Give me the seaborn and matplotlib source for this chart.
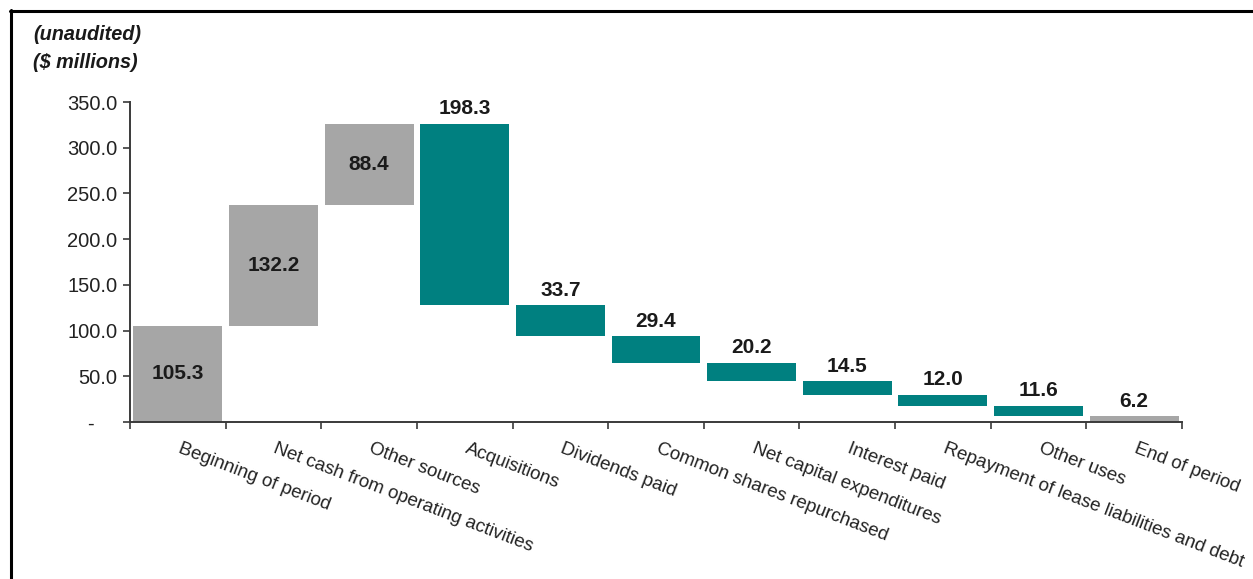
import matplotlib
matplotlib.use("Agg")
import matplotlib.pyplot as plt
import matplotlib.transforms as mtransforms
from matplotlib.lines import Line2D
import numpy as np
import pandas as pd
import seaborn as sns

# Cash flow walk, $ millions
categories = [
    "Beginning of period",
    "Net cash from operating activities",
    "Other sources",
    "Acquisitions",
    "Dividends paid",
    "Common shares repurchased",
    "Net capital expenditures",
    "Interest paid",
    "Repayment of lease liabilities and debt",
    "Other uses",
    "End of period",
]
amounts = [105.3, 132.2, 88.4, -198.3, -33.7, -29.4, -20.2, -14.5, -12.0, -11.6, 6.2]
kinds = ["total", "source", "source", "use", "use", "use", "use", "use", "use", "use", "total"]
y_ticks = [0, 50, 100, 150, 200, 250, 300, 350]

GREY = "#A6A6A6"
TEAL = "#008080"
AXIS = "#3a3a3a"

sns.set_theme(style="white")
plt.rcParams["font.family"] = ["Liberation Sans", "DejaVu Sans"]

# running position of each step in the walk
bottoms, heights = [], []
level = 0.0
for amt, kind in zip(amounts, kinds):
    if kind == "total":
        bottoms.append(0.0)
        heights.append(amt)
        level = amt
    elif amt >= 0:
        bottoms.append(level)
        heights.append(amt)
        level += amt
    else:
        level += amt
        bottoms.append(level)
        heights.append(-amt)

df = pd.DataFrame({"category": categories, "height": heights, "bottom": bottoms, "kind": kinds})

W, H = 1253, 579
fig = plt.figure(figsize=(W / 100, H / 100), dpi=100)
ax = fig.add_axes([130 / W, 1 - 422 / H, (1182 - 130) / W, (422 - 102) / H])

sns.barplot(data=df, x="category", y="height", order=categories, bottom=df["bottom"].to_numpy(),
            color=GREY, width=0.93, saturation=1, linewidth=0, ax=ax)
for patch, kind in zip(ax.patches, kinds):
    patch.set_facecolor(TEAL if kind == "use" else GREY)

# value labels: inside for grey steps, above for the rest
for i, (amt, h, b, kind) in enumerate(zip(amounts, heights, bottoms, kinds)):
    txt = f"{abs(amt):.1f}"
    if kind == "use" or (kind == "total" and i == len(amounts) - 1):
        ax.annotate(txt, (i, b + h), xytext=(0, 4), textcoords="offset points",
                    ha="center", va="bottom", fontsize=15, fontweight="bold", color="#1a1a1a")
    else:
        ax.text(i, b + h / 2, txt, ha="center", va="center", fontsize=15,
                fontweight="bold", color="#1a1a1a")

ax.set_xlim(-0.5, len(categories) - 0.5)
ax.set_ylim(0, 350)
ax.set_xlabel("")
ax.set_ylabel("")

# y axis in accounting style: zero shown as a dash
ax.set_yticks(y_ticks)
ax.set_yticklabels(["-" if v == 0 else f"{v:.1f}" for v in y_ticks])
ax.tick_params(axis="y", which="major", direction="out", length=5, width=1.2,
               color=AXIS, labelsize=14.5, labelcolor="#222222", pad=4, left=True)
zero_lbl = ax.get_yticklabels()[0]
zero_lbl.set_transform(zero_lbl.get_transform() +
                       mtransforms.ScaledTranslation(-24 / 100, 0, fig.dpi_scale_trans))

# x axis: ticks between categories, slanted labels at the centres
ax.set_xticks(range(len(categories)))
ax.set_xticklabels(categories, rotation=-21, ha="left", va="top", rotation_mode="anchor")
ax.set_xticks(np.arange(-0.5, len(categories), 1.0), minor=True)
ax.tick_params(axis="x", which="major", length=0, labelsize=13.5, labelcolor="#222222", pad=13)
ax.tick_params(axis="x", which="minor", direction="out", length=5, width=1.2, color=AXIS, bottom=True)
for lbl in ax.get_xticklabels():
    lbl.set_transform(lbl.get_transform() +
                      mtransforms.ScaledTranslation(4 / 100, 0, fig.dpi_scale_trans))

for side in ["top", "right"]:
    ax.spines[side].set_visible(False)
for side in ["left", "bottom"]:
    ax.spines[side].set_color(AXIS)
    ax.spines[side].set_linewidth(1.4)

fig.text(33 / W, 1 - 35 / H, "(unaudited)", fontsize=14.3, fontweight="bold",
         fontstyle="italic", ha="left", va="center", color="#1a1a1a")
fig.text(33 / W, 1 - 62 / H, "($ millions)", fontsize=14.3, fontweight="bold",
         fontstyle="italic", ha="left", va="center", color="#1a1a1a")

# frame around the chart area
fig.add_artist(Line2D([11 / W, 11 / W], [0, 1 - 10 / H], color="black", linewidth=2.2))
fig.add_artist(Line2D([10 / W, 1], [1 - 10.5 / H, 1 - 10.5 / H], color="black", linewidth=2.2))

fig.savefig("out.png", dpi=100)
